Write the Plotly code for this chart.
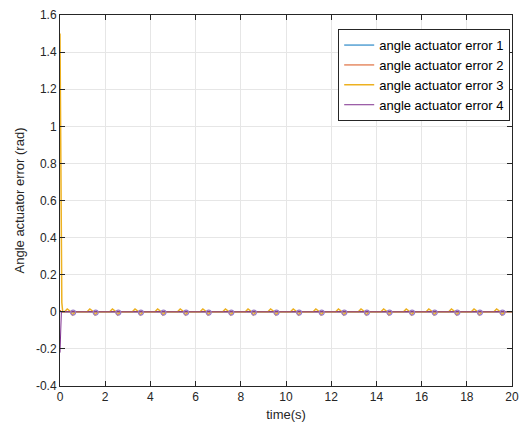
import plotly.graph_objects as go

# ---- data ----
labels = ["angle actuator error 1", "angle actuator error 2",
          "angle actuator error 3", "angle actuator error 4"]
colors = ["#0072BD", "#D95319", "#EDB120", "#7E2F8E"]

t1 = [0, 0.05, 20]
e1 = [0.0, 0.0, 0.0]

t2 = [0, 0.05, 20]
e2 = [0.01, 0.0, 0.0]

t3 = [0, 0.04, 0.08, 0.12,
      0.2, 0.32, 0.45, 0.55, 0.68,
      1.2, 1.32, 1.45, 1.55, 1.68,
      2.2, 2.32, 2.45, 2.55, 2.68,
      3.2, 3.32, 3.45, 3.55, 3.68,
      4.2, 4.32, 4.45, 4.55, 4.68,
      5.2, 5.32, 5.45, 5.55, 5.68,
      6.2, 6.32, 6.45, 6.55, 6.68,
      7.2, 7.32, 7.45, 7.55, 7.68,
      8.2, 8.32, 8.45, 8.55, 8.68,
      9.2, 9.32, 9.45, 9.55, 9.68,
      10.2, 10.32, 10.45, 10.55, 10.68,
      11.2, 11.32, 11.45, 11.55, 11.68,
      12.2, 12.32, 12.45, 12.55, 12.68,
      13.2, 13.32, 13.45, 13.55, 13.68,
      14.2, 14.32, 14.45, 14.55, 14.68,
      15.2, 15.32, 15.45, 15.55, 15.68,
      16.2, 16.32, 16.45, 16.55, 16.68,
      17.2, 17.32, 17.45, 17.55, 17.68,
      18.2, 18.32, 18.45, 18.55, 18.68,
      19.2, 19.32, 19.45, 19.55, 19.68, 20]
e3 = [1.5, 0.6, 0.05, 0.0,
      0.0, 0.015, 0.003, -0.017, 0.0,
      0.0, 0.015, 0.003, -0.017, 0.0,
      0.0, 0.015, 0.003, -0.017, 0.0,
      0.0, 0.015, 0.003, -0.017, 0.0,
      0.0, 0.015, 0.003, -0.017, 0.0,
      0.0, 0.015, 0.003, -0.017, 0.0,
      0.0, 0.015, 0.003, -0.017, 0.0,
      0.0, 0.015, 0.003, -0.017, 0.0,
      0.0, 0.015, 0.003, -0.017, 0.0,
      0.0, 0.015, 0.003, -0.017, 0.0,
      0.0, 0.015, 0.003, -0.017, 0.0,
      0.0, 0.015, 0.003, -0.017, 0.0,
      0.0, 0.015, 0.003, -0.017, 0.0,
      0.0, 0.015, 0.003, -0.017, 0.0,
      0.0, 0.015, 0.003, -0.017, 0.0,
      0.0, 0.015, 0.003, -0.017, 0.0,
      0.0, 0.015, 0.003, -0.017, 0.0,
      0.0, 0.015, 0.003, -0.017, 0.0,
      0.0, 0.015, 0.003, -0.017, 0.0,
      0.0, 0.015, 0.003, -0.017, 0.0, 0.0]

t4 = [0, 0.03, 0.06, 20]
e4 = [-0.22, -0.02, 0.0, 0.0]

# small loops drawn by series 4 around zero (one per second)
t4_loops = [0.58, 1.58, 2.58, 3.58, 4.58, 5.58, 6.58, 7.58, 8.58, 9.58,
            10.58, 11.58, 12.58, 13.58, 14.58, 15.58, 16.58, 17.58, 18.58,
            19.58]
e4_loops = [-0.004] * 20

xticks = list(range(0, 21, 2))
yticks = [-0.4, -0.2, 0, 0.2, 0.4, 0.6, 0.8, 1, 1.2, 1.4, 1.6]

FONT = "Liberation Sans, Arial"

fig = go.Figure()
fig.add_trace(go.Scatter(x=t1, y=e1, mode="lines", name=labels[0],
                         line=dict(color=colors[0], width=1)))
fig.add_trace(go.Scatter(x=t2, y=e2, mode="lines", name=labels[1],
                         line=dict(color=colors[1], width=1)))
fig.add_trace(go.Scatter(x=t3, y=e3, mode="lines", name=labels[2],
                         line=dict(color=colors[2], width=1.5)))
fig.add_trace(go.Scatter(x=t4, y=e4, mode="lines", name=labels[3],
                         line=dict(color=colors[3], width=1)))
fig.add_trace(go.Scatter(x=t4_loops, y=e4_loops, mode="markers",
                         showlegend=False, hoverinfo="skip",
                         marker=dict(symbol="circle-open", color="#9A7CC8",
                                     size=5, line=dict(width=1.2))))

axis_common = dict(showline=True, linecolor="#262626", linewidth=1,
                   mirror="ticks", ticks="inside", ticklen=5,
                   tickcolor="#262626", showgrid=True, gridcolor="#e6e6e6",
                   gridwidth=1, zeroline=False, automargin=False,
                   tickfont=dict(family=FONT, size=12, color="#262626"))

fig.update_xaxes(range=[0, 20], tickvals=xticks,
                 ticktext=[str(v) for v in xticks],
                 title=dict(text="time(s)", standoff=6,
                            font=dict(family=FONT, size=13, color="#262626")),
                 **axis_common)
fig.update_yaxes(range=[-0.4, 1.6], tickvals=yticks,
                 ticktext=[("%g" % v) for v in yticks],
                 title=dict(text="Angle actuator error (rad)", standoff=8,
                            font=dict(family=FONT, size=13, color="#262626")),
                 **axis_common)

fig.update_layout(
    width=521, height=432,
    margin=dict(l=60, r=9, t=15, b=46, autoexpand=False),
    paper_bgcolor="white", plot_bgcolor="white",
    showlegend=True,
    legend=dict(x=0.996, y=0.962, xanchor="right", yanchor="top",
                bgcolor="white", bordercolor="#262626", borderwidth=1,
                font=dict(family=FONT, size=13, color="black"),
                itemwidth=30, tracegroupgap=0),
)

fig.write_html("out.html")
